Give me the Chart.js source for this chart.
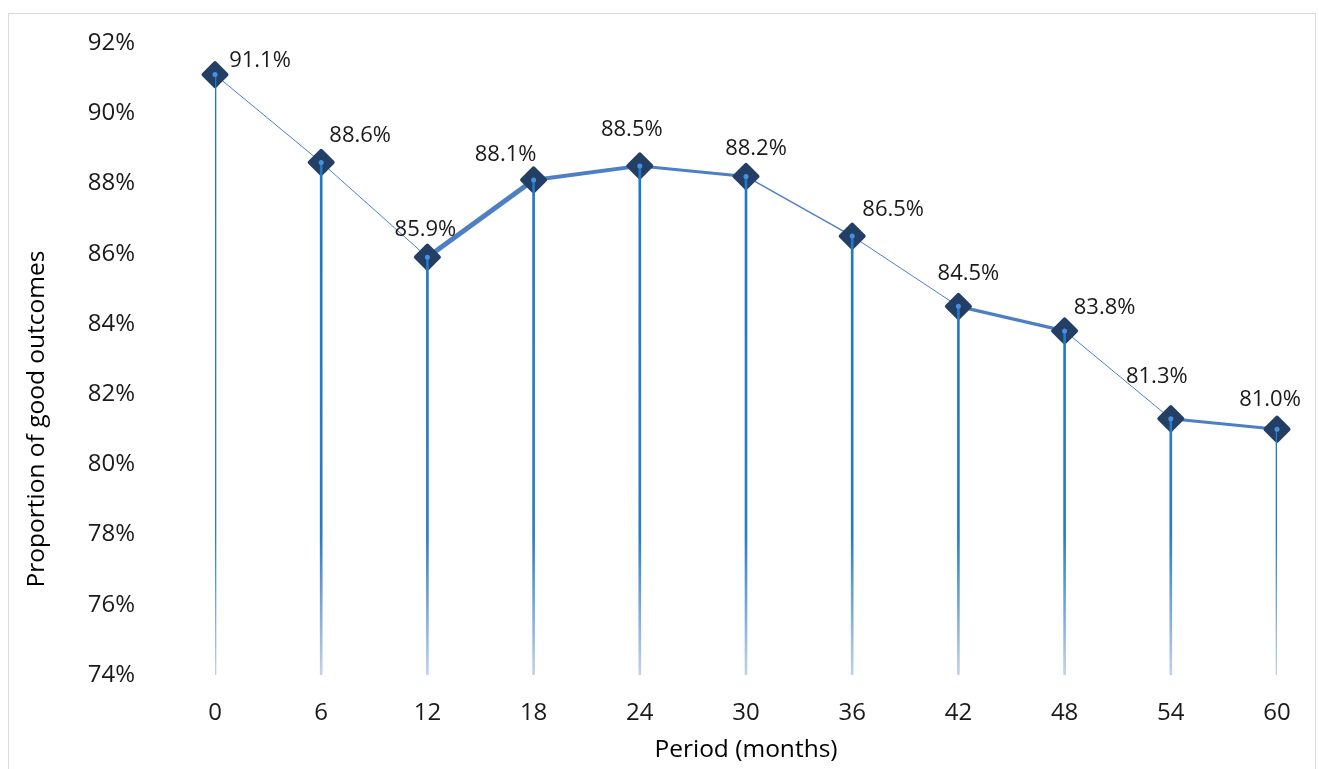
<!DOCTYPE html>
<html>
<head>
<meta charset="utf-8">
<script src="https://cdn.jsdelivr.net/npm/chart.js@4"></script>
<style>
  html, body { margin: 0; padding: 0; background: #fff; overflow: hidden; }
  #wrap { position: absolute; left: 0; top: 0; width: 1319px; height: 769px; }
  #frame { position: absolute; left: 8px; top: 13px; width: 1308px; height: 770px; border: 1px solid #d9d9d9; box-sizing: border-box; }
</style>
</head>
<body>
<div id="frame"></div>
<div id="wrap"><canvas id="chart"></canvas></div>
<script>
// ── Data ───────────────────────────────────────────────
const periods  = ["0", "6", "12", "18", "24", "30", "36", "42", "48", "54", "60"];
const outcomes = [91.1, 88.6, 85.9, 88.1, 88.5, 88.2, 86.5, 84.5, 83.8, 81.3, 81.0];
const yMin = 74, yMax = 92, yStep = 2;

// ── Styling ────────────────────────────────────────────
const FONT = "'Open Sans', 'Noto Sans', sans-serif";
const segWidths = [1, 1, 5, 4, 3, 1.5, 1, 3.5, 1, 3];
// label nudges [dx, dy] from each marker
const labelNudge = [[45, -14], [39, -27], [-2, -27], [-28, -25], [-8, -36], [10, -28],
                    [41, -26], [10, -33], [40, -23], [-14, -42], [-7, -29]];

const dataLabels = {
    id: "dataLabels",
    afterDatasetsDraw(chart) {
        const ctx = chart.ctx;
        const meta = chart.getDatasetMeta(0);
        ctx.save();
        ctx.font = "22px " + FONT;
        ctx.fillStyle = "#1a1a1a";
        ctx.textAlign = "center";
        ctx.textBaseline = "middle";
        meta.data.forEach((pt, i) => {
            const yPix = chart.scales.y.getPixelForValue(outcomes[i]);
            ctx.fillText(outcomes[i].toFixed(1) + "%", pt.x + labelNudge[i][0], yPix + labelNudge[i][1]);
        });
        ctx.restore();
    }
};

// rounded corners on the diamond markers
const roundJoin = {
    id: "roundJoin",
    beforeDatasetDraw(chart, args) { if (args.index === 2) chart.ctx.lineJoin = "round"; },
    afterDatasetDraw(chart, args) { if (args.index === 2) chart.ctx.lineJoin = "miter"; }
};

const yTitle = {
    id: "yTitle",
    afterDraw(chart) {
        const ctx = chart.ctx;
        ctx.save();
        ctx.translate(37, 419);
        ctx.rotate(-Math.PI / 2);
        ctx.font = "24.5px " + FONT;
        ctx.fillStyle = "#000";
        ctx.textAlign = "center";
        ctx.textBaseline = "middle";
        ctx.fillText("Proportion of good outcomes", 0, 0);
        ctx.restore();
    }
};

function dropGradient(context) {
    const area = context.chart.chartArea;
    if (!area) return "#1f74bf";
    const g = context.chart.ctx.createLinearGradient(0, area.top, 0, area.bottom);
    g.addColorStop(0, "#1f76c2");
    g.addColorStop(0.78, "#2a7cc4");
    g.addColorStop(1, "#c2d2ea");
    return g;
}

new Chart(document.getElementById("chart"), {
    type: "line",
    data: {
        labels: periods,
        datasets: [
            {
                type: "bar",
                data: outcomes.map(v => [yMin, v]),
                backgroundColor: dropGradient,
                barThickness: 2,
                order: 1
            },
            {
                type: "line",
                data: outcomes,
                showLine: false,
                pointStyle: "circle",
                pointRadius: 2.5,
                pointBackgroundColor: "#4a90e2",
                pointBorderWidth: 0,
                order: 0
            },
            {
                type: "line",
                data: outcomes,
                borderColor: "#4e7fc4",
                borderWidth: 1,
                segment: {
                    borderWidth: ctx => segWidths[ctx.p0DataIndex]
                },
                pointStyle: "rectRot",
                pointRadius: 11.5,
                pointBackgroundColor: "#243f66",
                pointBorderColor: "#243f66",
                pointBorderWidth: 4,
                order: 2
            }
        ]
    },
    options: {
        responsive: true,
        maintainAspectRatio: false,
        devicePixelRatio: 1,
        animation: false,
        layout: { padding: { top: 43, right: 42, left: 0, bottom: 0 } },
        plugins: {
            legend: { display: false },
            tooltip: { enabled: false }
        },
        scales: {
            x: {
                offset: false,
                grid: { display: false, drawTicks: false },
                border: { display: false },
                ticks: { color: "#1a1a1a", font: { family: FONT, size: 24 }, padding: 24, maxRotation: 0 },
                title: { display: true, text: "Period (months)", color: "#000",
                         font: { family: FONT, size: 24.5 }, padding: { top: 0, bottom: 4 } },
                afterFit: s => { s.height = 94; }
            },
            y: {
                min: yMin,
                max: yMax,
                grid: { display: false, drawTicks: false },
                border: { display: false },
                ticks: { stepSize: yStep, color: "#1a1a1a", font: { family: FONT, size: 24 },
                         padding: 80, callback: v => v + "%" },
                afterFit: s => { s.width = 215; s.paddingTop = 14; s.paddingBottom = 14; }
            }
        }
    },
    plugins: [roundJoin, dataLabels, yTitle]
});
</script>
</body>
</html>
